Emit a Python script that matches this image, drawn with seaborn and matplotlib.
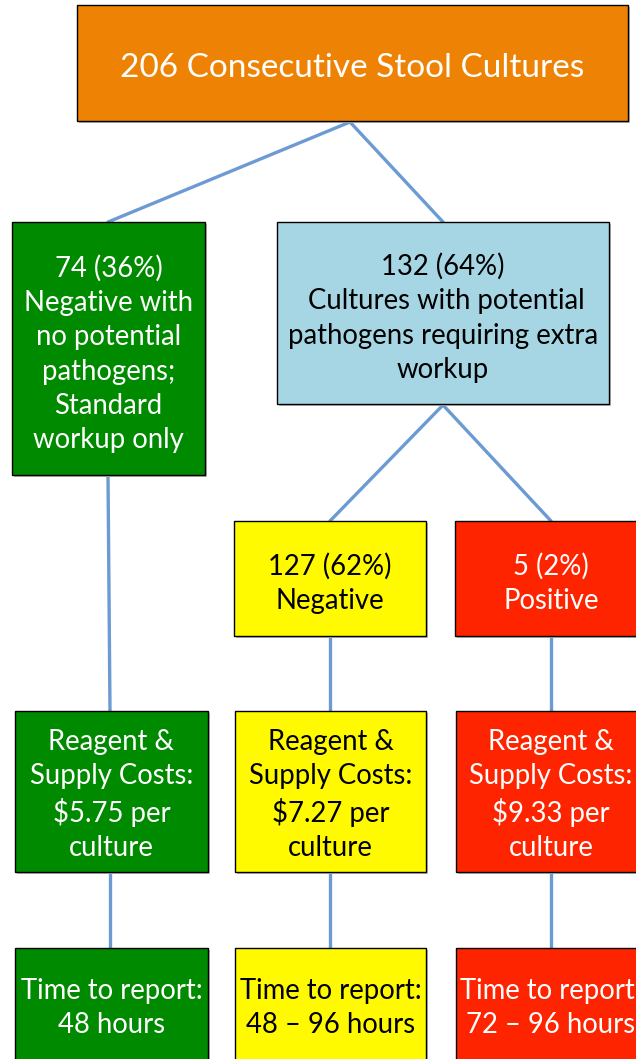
import numpy as np
import pandas as pd
import matplotlib.pyplot as plt
import matplotlib.patches as m_patches
import seaborn as sns

# node boxes (pixel frame of the 636x1059 picture): left, top, right, bottom
box_names = ["all", "neg_std", "extra", "neg", "pos",
             "cost_std", "cost_neg", "cost_pos",
             "time_std", "time_neg", "time_pos"]
box_left = [77, 12, 277, 234, 455, 15, 235, 456, 15, 235, 456]
box_top = [5, 222, 222, 521, 521, 711, 711, 711, 948, 948, 948]
box_right = [628, 205, 609, 426, 640, 208, 426, 640, 208, 426, 640]
box_bottom = [121, 475, 404, 636, 636, 872, 872, 872, 1070, 1070, 1070]
box_text_y = [68, 354, 318, 583, 583, 795, 795, 795, 1008, 1008, 1008]
box_labels = [
    "206 Consecutive Stool Cultures",
    "74 (36%)\nNegative with\nno potential\npathogens;\nStandard\nworkup only",
    "132 (64%)\n Cultures with potential\npathogens requiring extra\nworkup",
    "127 (62%)\nNegative",
    "5 (2%)\nPositive",
    "Reagent &\nSupply Costs:\n$5.75 per\nculture",
    "Reagent &\nSupply Costs:\n$7.27 per\nculture",
    "Reagent &\nSupply Costs:\n$9.33 per\nculture",
    "Time to report:\n48 hours",
    "Time to report:\n48 \u2013 96 hours",
    "Time to report:\n72 \u2013 96 hours",
]
box_fill = ["#EE8204", "#008A00", "#A6D6E4", "#FFFA00", "#FF2400",
            "#008A00", "#FFFA00", "#FF2400",
            "#008A00", "#FFFA00", "#FF2400"]
box_ink = ["white", "white", "black", "black", "white",
           "white", "black", "white",
           "white", "black", "white"]
box_size = [24, 19.8, 19.8, 19.8, 19.8, 19.8, 19.8, 19.8, 19.8, 19.8, 19.8]

# connectors: from point -> to point
edge_x0 = [350, 350, 443, 443, 108, 330, 551, 110, 330, 551]
edge_y0 = [122, 122, 405, 405, 475, 636, 636, 872, 872, 872]
edge_x1 = [108, 443, 330, 551, 110, 330, 551, 110, 330, 551]
edge_y1 = [222, 222, 521, 521, 711, 711, 711, 948, 948, 948]

sns.set_theme(style="white")
plt.rcParams["font.family"] = ["Lato", "DejaVu Sans"]

fig = plt.figure(figsize=(6.36, 10.59), dpi=100)
ax = fig.add_axes([0, 0, 1, 1])
ax.set_xlim(0, 636)
ax.set_ylim(1059, 0)
ax.axis("off")

edges = pd.DataFrame({
    "edge": np.repeat(np.arange(len(edge_x0)), 2),
    "x": np.ravel(np.column_stack([edge_x0, edge_x1])),
    "y": np.ravel(np.column_stack([edge_y0, edge_y1])),
})
sns.lineplot(data=edges, x="x", y="y", units="edge", estimator=None,
             sort=False, color="#6B9BD2", linewidth=2.4, ax=ax, zorder=1)

for i in range(len(box_names)):
    w = box_right[i] - box_left[i]
    h = box_bottom[i] - box_top[i]
    shadow = m_patches.Rectangle((box_left[i] + 2, box_top[i] + 2), w, h,
                                 facecolor="#BBBBBB", edgecolor="none",
                                 zorder=2)
    ax.add_patch(shadow)
    rect = m_patches.Rectangle((box_left[i], box_top[i]), w, h,
                               facecolor=box_fill[i], edgecolor="black",
                               linewidth=1.0, zorder=3)
    ax.add_patch(rect)
    cx = (box_left[i] + box_right[i]) / 2
    if box_names[i] in ("pos", "cost_pos", "time_pos"):
        cx = 551
    ax.text(cx, box_text_y[i], box_labels[i], ha="center", va="center",
            color=box_ink[i], fontsize=box_size[i], linespacing=1.39,
            zorder=4)

ax.set_xlabel("")
ax.set_ylabel("")
fig.savefig("out.png", dpi=100)
